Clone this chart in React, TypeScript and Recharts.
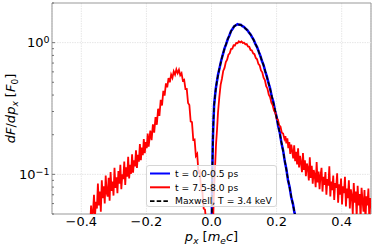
import React from "react";
import {
  LineChart, Line, XAxis, YAxis, CartesianGrid, ReferenceLine, ReferenceArea,
} from "recharts";

const FONT = "DejaVu Sans";

const xTicks = [-0.4, -0.2, 0, 0.2, 0.4];
const yTicks = [0.05, 0.06, 0.07, 0.08, 0.09, 0.1, 0.2, 0.3, 0.4, 0.5, 0.6, 0.7, 0.8, 0.9, 1, 2];
const yMajor: Record<string, string> = { "1": "0", "0.1": "\u22121" };

const legendLabels = ["t = 0.0-0.5 ps", "t = 7.5-8.0 ps", "Maxwell, T = 3.4 keV"];

// Maxwell fit, T = 3.4 keV  [p_x, dF/dp_x]
const maxwellPts: [number, number][] = [
  [0, 0.02], [0.002, 0.09], [0.004, 0.17], [0.006, 0.26], [0.008, 0.33], [0.01, 0.38],
  [0.013, 0.44], [0.016, 0.5], [0.02, 0.565], [0.025, 0.65], [0.03, 0.73], [0.035, 0.82],
  [0.04, 0.9], [0.045, 0.98], [0.05, 1.06], [0.055, 1.14], [0.06, 1.22], [0.065, 1.28],
  [0.07, 1.33], [0.075, 1.36], [0.08, 1.375], [0.085, 1.37], [0.09, 1.36], [0.095, 1.34],
  [0.1, 1.31], [0.105, 1.28], [0.11, 1.24], [0.115, 1.2], [0.12, 1.15], [0.125, 1.1],
  [0.13, 1.04], [0.135, 0.98], [0.14, 0.92], [0.145, 0.86], [0.15, 0.79], [0.155, 0.73],
  [0.16, 0.67], [0.165, 0.61], [0.17, 0.55], [0.175, 0.5], [0.18, 0.445], [0.185, 0.395],
  [0.19, 0.35], [0.195, 0.31], [0.2, 0.27], [0.205, 0.235], [0.21, 0.203], [0.215, 0.175],
  [0.22, 0.15], [0.225, 0.128], [0.23, 0.108], [0.235, 0.092], [0.24, 0.079], [0.245, 0.068],
  [0.25, 0.059], [0.255, 0.052], [0.26, 0.045], [0.265, 0.039],
];

// t = 0.0-0.5 ps
const earlyPts: [number, number][] = [
  [0, 0.025], [0.002, 0.085], [0.004, 0.175], [0.006, 0.25], [0.008, 0.335], [0.01, 0.375],
  [0.013, 0.445], [0.016, 0.495], [0.02, 0.57], [0.025, 0.645], [0.03, 0.735], [0.035, 0.815],
  [0.04, 0.905], [0.045, 0.975], [0.05, 1.065], [0.055, 1.135], [0.06, 1.225], [0.065, 1.275],
  [0.07, 1.335], [0.075, 1.355], [0.08, 1.38], [0.085, 1.365], [0.09, 1.365], [0.095, 1.335],
  [0.1, 1.315], [0.105, 1.275], [0.11, 1.245], [0.115, 1.195], [0.12, 1.155], [0.125, 1.095],
  [0.13, 1.045], [0.135, 0.975], [0.14, 0.925], [0.145, 0.855], [0.15, 0.795], [0.155, 0.725],
  [0.16, 0.675], [0.165, 0.605], [0.17, 0.555], [0.175, 0.495], [0.18, 0.45], [0.185, 0.39],
  [0.19, 0.355], [0.195, 0.305], [0.2, 0.274], [0.205, 0.232], [0.21, 0.206], [0.215, 0.172],
  [0.22, 0.152], [0.225, 0.126], [0.23, 0.11], [0.235, 0.09], [0.24, 0.08], [0.245, 0.067],
  [0.25, 0.06], [0.255, 0.051], [0.26, 0.046], [0.265, 0.038],
];

// t = 7.5-8.0 ps, split in pieces
const lateLeftTail: [number, number][] = [
  [-0.38, 0.03], [-0.376, 0.045], [-0.373, 0.039], [-0.37, 0.058], [-0.367, 0.044], [-0.364, 0.052],
  [-0.361, 0.07], [-0.358, 0.048], [-0.355, 0.062], [-0.352, 0.055], [-0.349, 0.085], [-0.346, 0.058],
  [-0.343, 0.074], [-0.34, 0.052], [-0.337, 0.09], [-0.334, 0.066], [-0.331, 0.081], [-0.328, 0.06],
  [-0.325, 0.098], [-0.322, 0.072], [-0.319, 0.068], [-0.316, 0.094], [-0.313, 0.063], [-0.31, 0.104],
  [-0.307, 0.075], [-0.304, 0.088], [-0.301, 0.069], [-0.298, 0.112], [-0.295, 0.079], [-0.292, 0.095],
  [-0.289, 0.072], [-0.286, 0.106], [-0.283, 0.085], [-0.28, 0.118], [-0.277, 0.077], [-0.274, 0.1],
  [-0.271, 0.092], [-0.268, 0.125], [-0.265, 0.083], [-0.262, 0.113], [-0.259, 0.096], [-0.256, 0.136],
  [-0.253, 0.093], [-0.25, 0.118], [-0.247, 0.101], [-0.244, 0.142], [-0.241, 0.103], [-0.238, 0.128],
  [-0.235, 0.115], [-0.232, 0.152], [-0.229, 0.112], [-0.226, 0.141], [-0.223, 0.125], [-0.22, 0.17],
  [-0.217, 0.128], [-0.214, 0.16], [-0.211, 0.14], [-0.208, 0.185], [-0.205, 0.145], [-0.202, 0.176],
  [-0.199, 0.158], [-0.196, 0.204], [-0.193, 0.162],
];

const lateLeftHump: [number, number][] = [
  [-0.188, 0.215], [-0.184, 0.182], [-0.18, 0.24], [-0.176, 0.207], [-0.172, 0.272], [-0.168, 0.238],
  [-0.164, 0.315], [-0.16, 0.278], [-0.156, 0.368], [-0.152, 0.333], [-0.148, 0.43], [-0.144, 0.396],
  [-0.14, 0.49], [-0.136, 0.458], [-0.132, 0.538], [-0.128, 0.5], [-0.124, 0.572], [-0.12, 0.54],
  [-0.116, 0.605], [-0.112, 0.572], [-0.108, 0.626], [-0.104, 0.586], [-0.1, 0.622], [-0.096, 0.566],
  [-0.092, 0.586], [-0.088, 0.515], [-0.084, 0.522], [-0.08, 0.444], [-0.076, 0.445], [-0.072, 0.348],
  [-0.068, 0.336], [-0.064, 0.252], [-0.06, 0.249], [-0.056, 0.183], [-0.052, 0.184], [-0.048, 0.138],
  [-0.044, 0.143], [-0.04, 0.103], [-0.036, 0.106], [-0.032, 0.076], [-0.028, 0.074], [-0.024, 0.055],
  [-0.02, 0.054], [-0.016, 0.043], [-0.012, 0.039], [-0.008, 0.026], [-0.004, 0.02], [0, 0.017],
  [0.002, 0.024], [0.005, 0.045],
];

const lateRightHump: [number, number][] = [
  [0.008, 0.078], [0.011, 0.115], [0.014, 0.17], [0.017, 0.218], [0.02, 0.295], [0.024, 0.385],
  [0.028, 0.478], [0.032, 0.532], [0.036, 0.61], [0.04, 0.643], [0.044, 0.712], [0.048, 0.742],
  [0.052, 0.81], [0.056, 0.83], [0.06, 0.895], [0.064, 0.9], [0.068, 0.955], [0.072, 0.952],
  [0.076, 0.995], [0.08, 0.99], [0.084, 1.025], [0.088, 1.005], [0.092, 1.022], [0.096, 0.995],
  [0.1, 1.0], [0.104, 0.972], [0.108, 0.975], [0.112, 0.935], [0.116, 0.93], [0.12, 0.88],
  [0.124, 0.872], [0.128, 0.83], [0.132, 0.818], [0.136, 0.765], [0.14, 0.748], [0.144, 0.69],
  [0.148, 0.672], [0.152, 0.615], [0.156, 0.595], [0.16, 0.542], [0.164, 0.52], [0.168, 0.468],
  [0.172, 0.447], [0.176, 0.403], [0.18, 0.386], [0.184, 0.35], [0.188, 0.335], [0.192, 0.305],
  [0.196, 0.295], [0.2, 0.265], [0.204, 0.26], [0.208, 0.236], [0.212, 0.23], [0.216, 0.207],
  [0.22, 0.204], [0.224, 0.186],
];

const lateRightTail: [number, number][] = [
  [0.227, 0.195], [0.23, 0.172], [0.233, 0.188], [0.236, 0.158], [0.239, 0.176], [0.242, 0.143],
  [0.245, 0.168], [0.248, 0.15], [0.251, 0.132], [0.254, 0.166], [0.257, 0.126], [0.26, 0.148],
  [0.263, 0.119], [0.266, 0.158], [0.269, 0.113], [0.272, 0.138], [0.275, 0.122], [0.278, 0.104],
  [0.281, 0.145], [0.284, 0.108], [0.287, 0.128], [0.29, 0.097], [0.293, 0.121], [0.296, 0.112],
  [0.299, 0.09], [0.302, 0.135], [0.305, 0.094], [0.308, 0.116], [0.311, 0.085], [0.314, 0.108],
  [0.317, 0.099], [0.32, 0.08], [0.323, 0.124], [0.326, 0.087], [0.329, 0.105], [0.332, 0.077],
  [0.335, 0.098], [0.338, 0.112], [0.341, 0.074], [0.344, 0.096], [0.347, 0.083], [0.35, 0.104],
  [0.353, 0.07], [0.356, 0.092], [0.359, 0.082], [0.362, 0.115], [0.365, 0.068], [0.368, 0.088],
  [0.371, 0.076], [0.374, 0.098], [0.377, 0.064], [0.38, 0.086], [0.383, 0.079], [0.386, 0.102],
  [0.389, 0.061], [0.392, 0.084], [0.395, 0.07], [0.398, 0.093], [0.401, 0.059], [0.404, 0.081],
  [0.407, 0.072], [0.41, 0.096], [0.413, 0.057], [0.416, 0.078], [0.419, 0.066], [0.422, 0.09],
  [0.425, 0.055], [0.428, 0.077], [0.431, 0.069], [0.434, 0.05], [0.437, 0.086], [0.44, 0.061],
  [0.443, 0.074], [0.446, 0.048], [0.449, 0.082], [0.452, 0.058], [0.455, 0.071], [0.458, 0.046],
  [0.461, 0.079], [0.464, 0.063], [0.467, 0.052], [0.47, 0.076], [0.473, 0.045], [0.476, 0.068],
  [0.479, 0.058], [0.482, 0.078], [0.485, 0.044], [0.488, 0.066], [0.491, 0.055],
];

const toRows = (pts: [number, number][]) => pts.map(([x, f]) => ({ x, f }));
const maxwellData = toRows(maxwellPts);
const earlyData = toRows(earlyPts);
const lateData = toRows([...lateLeftTail, ...lateLeftHump, ...lateRightHump, ...lateRightTail]);

const fmtX = (v: number) => (v < 0 ? "\u2212" + Math.abs(v).toFixed(1) : v.toFixed(1));

function XTick(props: any) {
  const { x, y, payload } = props;
  return (
    <text x={x} y={y + 12} textAnchor="middle" fontFamily={FONT} fontSize={13} fill="#000">
      {fmtX(payload.value)}
    </text>
  );
}

function YTick(props: any) {
  const { x, y, payload } = props;
  const sup = yMajor[String(payload.value)];
  return (
    <g>
      <line x1={x} x2={x + (sup ? 3 : 2)} y1={y} y2={y} stroke="#555" strokeWidth={0.8} />
      {sup && (
        <text x={x - 2.5} y={y + 4.7} textAnchor="end" fontFamily={FONT} fontSize={13} fill="#000">
          10<tspan dy={-4.5} fontSize={9.5}>{sup}</tspan>
        </text>
      )}
    </g>
  );
}

function XLabel(props: any) {
  const { x, y, width } = props.viewBox;
  return (
    <text x={x + width / 2} y={y + 27} textAnchor="middle" fontFamily={FONT} fontSize={13} fill="#000">
      <tspan fontStyle="italic">p</tspan>
      <tspan fontStyle="italic" fontSize={9} dy={2.5}>x</tspan>
      <tspan dy={-2.5}> [</tspan>
      <tspan fontStyle="italic">m</tspan>
      <tspan fontStyle="italic" fontSize={9} dy={2.5}>e</tspan>
      <tspan fontStyle="italic" dy={-2.5}>c</tspan>
      <tspan>]</tspan>
    </text>
  );
}

function YLabel(props: any) {
  const { x, y, height } = props.viewBox;
  const cx = x + 15;
  const cy = y + height / 2;
  return (
    <text x={cx} y={cy} transform={`rotate(-90 ${cx} ${cy})`} textAnchor="middle" fontFamily={FONT} fontSize={13} fill="#000">
      <tspan fontStyle="italic">dF</tspan>
      <tspan>/</tspan>
      <tspan fontStyle="italic">dp</tspan>
      <tspan fontStyle="italic" fontSize={9} dy={2.5}>x</tspan>
      <tspan dy={-2.5}> [</tspan>
      <tspan fontStyle="italic">F</tspan>
      <tspan fontSize={9} dy={2.5}>0</tspan>
      <tspan dy={-2.5}>]</tspan>
    </text>
  );
}

function LegendBox() {
  const rows = [
    { stroke: "#0000ff", width: 2, dash: undefined },
    { stroke: "#ff0000", width: 2, dash: undefined },
    { stroke: "#000", width: 1.6, dash: "4.5 2.2" },
  ];
  return (
    <div
      style={{
        position: "absolute", left: 146, top: 165, width: 131, height: 42,
        background: "rgba(255,255,255,0.8)", border: "1px solid #d6d6d6", borderRadius: 3,
        boxSizing: "border-box",
      }}
    >
      <svg width={131} height={42} style={{ position: "absolute", left: -1, top: -1 }}>
        {rows.map((r, i) => {
          const cy = 8.5 + i * 13.8;
          return (
            <g key={i}>
              <line x1={4} x2={24} y1={cy} y2={cy} stroke={r.stroke} strokeWidth={r.width} strokeDasharray={r.dash} />
              <text x={29} y={cy + 3.3} fontFamily={FONT} fontSize={9.2} fill="#000">{legendLabels[i]}</text>
            </g>
          );
        })}
      </svg>
    </div>
  );
}

export default function App() {
  return (
    <div style={{ position: "absolute", left: 0, top: 0, width: 374, height: 247, background: "#fff" }}>
      <LineChart width={374} height={247} margin={{ top: 3, right: 3, bottom: 0, left: 0 }}>
        <CartesianGrid horizontal={false} stroke="#e6e6e6" strokeDasharray="1.5 1" />
        <ReferenceLine y={1} stroke="#e6e6e6" strokeDasharray="1.5 1" />
        <ReferenceLine y={0.1} stroke="#e6e6e6" strokeDasharray="1.5 1" />
        <XAxis
          dataKey="x" type="number" domain={[-0.49, 0.49]} ticks={xTicks} interval={0}
          allowDataOverflow height={33} tickSize={0} tickMargin={0} axisLine={false}
          tick={<XTick />} label={(p: any) => <XLabel {...p} />}
        />
        <YAxis
          dataKey="f" type="number" scale="log" domain={[0.05, 2]} ticks={yTicks} interval={0}
          allowDataOverflow width={52} tickSize={0} tickMargin={0} axisLine={false}
          tick={<YTick />} label={(p: any) => <YLabel {...p} />}
        />
        <Line data={earlyData} dataKey="f" stroke="#0000ff" strokeWidth={2.5} dot={false} isAnimationActive={false} />
        <Line data={lateData} dataKey="f" stroke="#ff0000" strokeWidth={1.8} dot={false} isAnimationActive={false} />
        <Line data={maxwellData} dataKey="f" stroke="#000" strokeWidth={1.6} strokeDasharray="4.5 2.2" dot={false} isAnimationActive={false} />
        <ReferenceArea x1={-0.49} x2={0.49} y1={0.05} y2={2} fill="none" stroke="#999" strokeWidth={1} />
      </LineChart>
      <LegendBox />
    </div>
  );
}
